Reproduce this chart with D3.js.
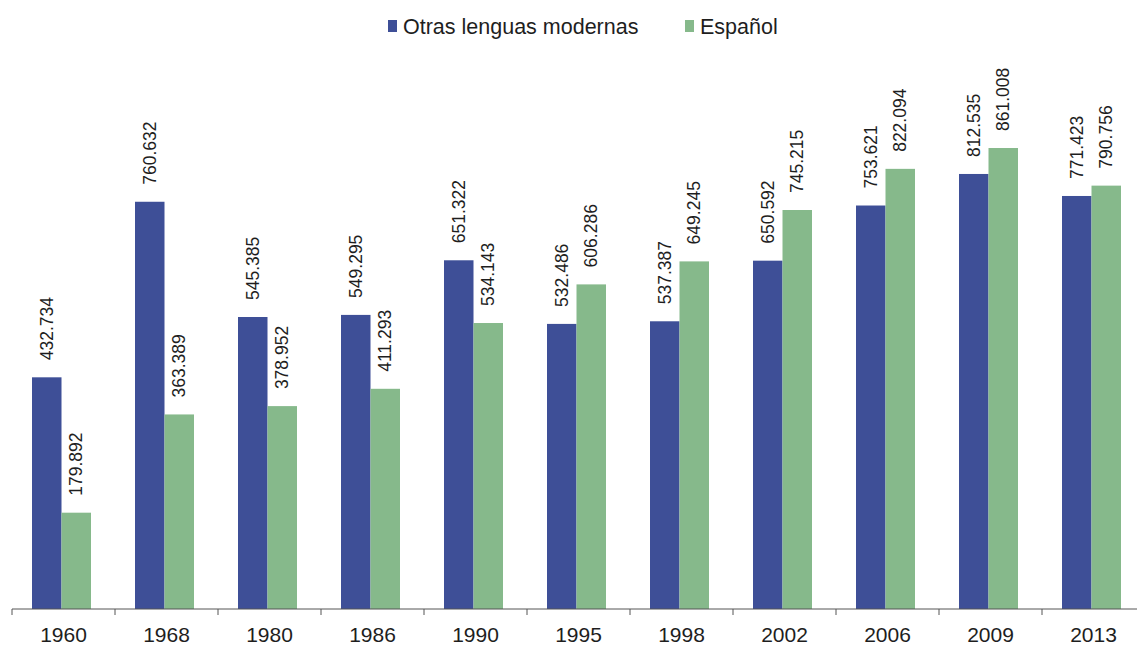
<!DOCTYPE html>
<html>
<head>
<meta charset="utf-8">
<script src="https://cdn.jsdelivr.net/npm/d3@7"></script>
<style>
  body { margin: 0; background: #fff; }
  text { font-family: "Liberation Sans", Arial, sans-serif; fill: #1e1e1e; }
</style>
</head>
<body>
<div id="viz"></div>
<script>
var years = ['1960', '1968', '1980', '1986', '1990', '1995', '1998', '2002', '2006', '2009', '2013'];
var series = ['Otras lenguas modernas', 'Español'];
var otras = [432734, 760632, 545385, 549295, 651322, 532486, 537387, 650592, 753621, 812535, 771423];
var espanol = [179892, 363389, 378952, 411293, 534143, 606286, 649245, 745215, 822094, 861008, 790756];
var colors = ['#3e4f97', '#86b98b'];

var width = 1137, height = 646;
var baseline = 609;

var rows = years.map(function(y, i) {
  return { year: y, values: [otras[i], espanol[i]] };
});

var es = d3.formatLocale({ decimal: ',', thousands: '.', grouping: [3], currency: ['', '€'] });
var fmt = es.format(',d');

var svg = d3.select('#viz').append('svg')
  .attr('width', width)
  .attr('height', height);

var x0 = d3.scaleBand()
  .domain(years)
  .range([12, 12 + 103 * years.length])
  .padding(0);

var x1 = d3.scaleBand()
  .domain([0, 1])
  .range([20, 79]);

var y = d3.scaleLinear()
  .domain([0, 1000000])
  .range([baseline, baseline - 535.4]);

// bars
var groups = svg.selectAll('g.year').data(rows)
  .enter().append('g')
  .attr('class', 'year')
  .attr('transform', function(d) { return 'translate(' + x0(d.year) + ',0)'; });

groups.selectAll('rect')
  .data(function(d) { return d.values; })
  .enter().append('rect')
  .attr('x', function(d, i) { return x1(i); })
  .attr('width', x1.bandwidth())
  .attr('y', function(d) { return y(d); })
  .attr('height', function(d) { return baseline - y(d); })
  .attr('fill', function(d, i) { return colors[i]; });

// value labels
groups.selectAll('text.val')
  .data(function(d) { return d.values; })
  .enter().append('text')
  .attr('class', 'val')
  .attr('transform', function(d, i) {
    return 'translate(' + (x1(i) + x1.bandwidth() / 2) + ',' + (y(d) - 17) + ') rotate(-90)';
  })
  .attr('dy', '0.35em')
  .style('font-size', '17.5px')
  .text(function(d) { return fmt(d); });

// x axis
var xAxis = d3.axisBottom(x0)
  .tickSize(0)
  .tickPadding(0);

var xGuide = svg.append('g')
  .attr('transform', 'translate(0,' + baseline + ')')
  .call(xAxis);
xGuide.select('.domain').attr('stroke', '#555').attr('d', 'M12,0H' + width);
xGuide.selectAll('.tick text')
  .attr('y', 0)
  .attr('dy', 0)
  .attr('transform', 'translate(0,33)')
  .style('font-size', '21px')
  .attr('fill', '#1e1e1e');

// boundary ticks
xGuide.selectAll('line.sep')
  .data(years)
  .enter().append('line')
  .attr('class', 'sep')
  .attr('x1', function(d) { return x0(d); })
  .attr('x2', function(d) { return x0(d); })
  .attr('y1', 0)
  .attr('y2', 6)
  .attr('stroke', '#555');

// legend
var legend = svg.append('g').attr('transform', 'translate(388,0)');
var legX = [0, 297];
series.forEach(function(s, i) {
  legend.append('rect')
    .attr('x', legX[i])
    .attr('y', 20)
    .attr('width', 9)
    .attr('height', 12)
    .attr('fill', colors[i]);
  legend.append('text')
    .attr('x', legX[i] + 15)
    .attr('y', 34)
    .style('font-size', '21.5px')
    .text(s);
});
</script>
</body>
</html>
